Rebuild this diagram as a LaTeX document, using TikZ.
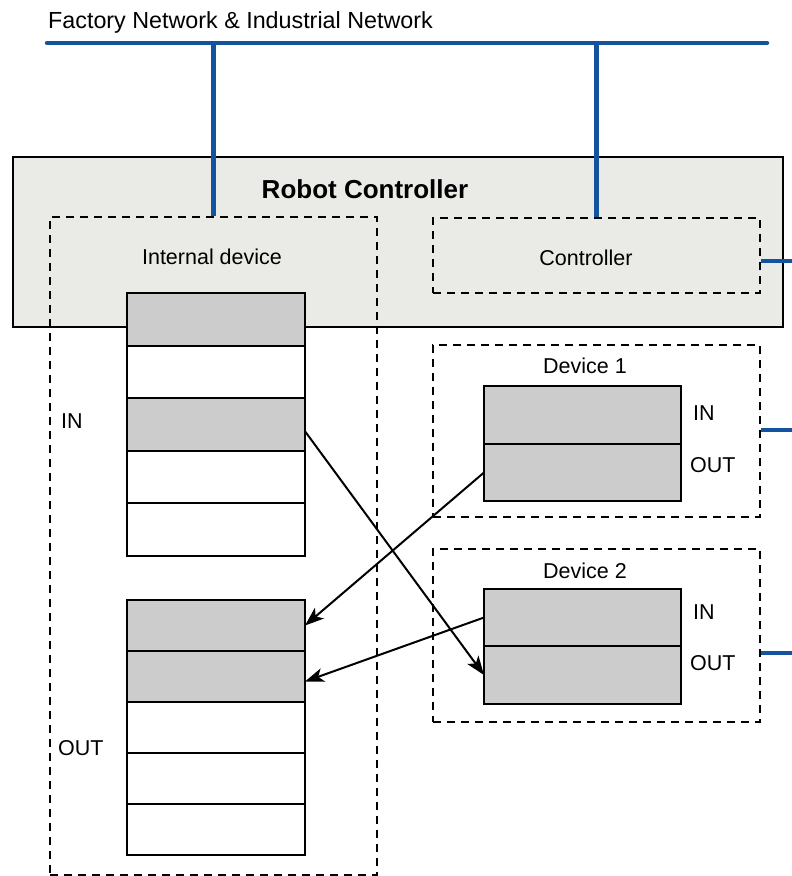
\documentclass[tikz,border=0pt]{standalone}
\usepackage{fontspec}
\setmainfont{Liberation Sans}
\usetikzlibrary{arrows.meta,positioning,calc}
\definecolor{netblue}{RGB}{20,84,158}
\definecolor{cellgray}{RGB}{204,204,204}
\definecolor{boxgray}{RGB}{234,234,230}
\tikzset{
	txt/.style={font=\fontsize{21.5}{25}\selectfont, inner sep=0pt}, % plain labels of the sketch
	dashbox/.style={draw, line width=2pt, dash pattern=on 8pt off 6pt, inner sep=0pt}, % dashed frame of a device
	net/.style={draw=netblue, line width=4.5pt}, % network wiring
	link/.style={-{Stealth[length=19pt,width=14pt,inset=5pt]}, line width=2pt}
}

\begin{document}
\begin{tikzpicture}[x=1pt, y=-1pt,
            cell/.style={draw, line width=2pt, outer sep=0pt, inner sep=0pt, minimum width=178pt, minimum height=52.5pt},
            devcell/.style={cell, fill=cellgray, minimum width=197pt, minimum height=57.5pt}
        ]
            \useasboundingbox (0,0) rectangle (792,876);
            \coordinate (busL) at (47,43);
            \coordinate (busR) at (767,43);
            \coordinate (stubC) at (792,261);
            \coordinate (stubA) at (792,430);
            \coordinate (stubB) at (792,653);
            \node[txt, font=\fontsize{23.3}{27}\selectfont, anchor=base west] (netlabel) at (48,28) {Factory Network \& Industrial Network};
            \draw[net, line cap=round] (busL) -- (busR);
            % robot controller
            \node[draw, line width=1.8pt, fill=boxgray, minimum width=770pt, minimum height=170pt] (rc) at (398,242) {};
            \node[txt, font=\bfseries\fontsize{26}{30}\selectfont] (rctitle) at (365,189) {Robot Controller};
            \node[dashbox, minimum width=327pt, minimum height=658pt] (intdev) at (213.5,546) {};
            \node[dashbox, minimum width=327pt, minimum height=75pt] (ctrl) at (596.5,255.5) {};
            \node[dashbox, minimum width=327pt, minimum height=172pt] (dev1) at (596.5,431) {};
            \node[dashbox, minimum width=327pt, minimum height=173pt] (dev2) at (596.5,635.5) {};
            \path[net]
                (intdev.north) edge (intdev.north |- busL)
                (ctrl.north) edge (ctrl.north |- busL)
                (stubC -| ctrl.east) edge (stubC)
                (stubA -| dev1.east) edge (stubA)
                (stubB -| dev2.east) edge (stubB);
            \node[txt] (intlabel) at (212,257) {Internal device};
            \node[txt] (ctrllabel) at (586,258) {Controller};
            \node[txt] (dev1label) at (585,366) {Device 1};
            \node[txt] (dev2label) at (585,571) {Device 2};
            % memory of the internal device
            \foreach \c [count=\i] in {cellgray,white,cellgray,white,white}
                \node[cell, fill=\c] (in\i) at (216,{293+52.5*(\i-0.5)}) {};
            \foreach \c [count=\i] in {cellgray,cellgray,white,white,white}
                \node[cell, fill=\c, minimum height=51pt] (out\i) at (216,{600+51*(\i-0.5)}) {};
            \node[txt, anchor=west] (inlabel) at (61,421) {IN};
            \node[txt, anchor=west] (outlabel) at (58,748.5) {OUT};
            % devices
            \node[devcell] (d1in) at (582.5,415) {};
            \node[devcell, below=0pt of d1in] (d1out) {};
            \node[devcell] (d2in) at (582.5,617.5) {};
            \node[devcell, below=0pt of d2in] (d2out) {};
            \node[txt, anchor=west] (d1inlabel) at (693,413.5) {IN};
            \node[txt, anchor=west] (d1outlabel) at (690,465) {OUT};
            \node[txt, anchor=west] (d2inlabel) at (693,612.5) {IN};
            \node[txt, anchor=west] (d2outlabel) at (690,663.5) {OUT};
            \path[link]
                ([yshift=-7pt]in3.east) edge (d2out.west)
                (d1out.west) edge (out1.east)
                (d2in.west) edge ([yshift=-5pt]out2.east);
        \end{tikzpicture}
\end{document}
